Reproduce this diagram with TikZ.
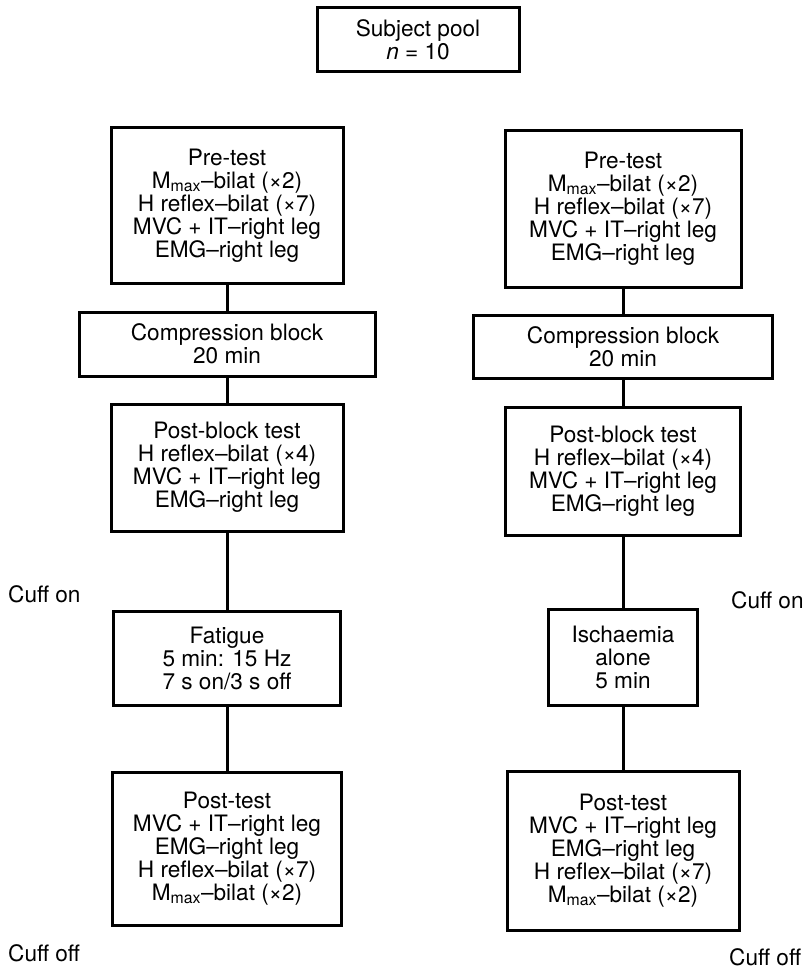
\documentclass[tikz,border=0pt]{standalone}
\usepackage{fontspec}
\setmainfont{TeX Gyre Heros}
\usetikzlibrary{positioning}

\begin{document}
\begin{tikzpicture}[x=1pt,y=-1pt]
  % Styles
  \tikzstyle{box}=[draw,line width=3pt,align=center,inner sep=0pt,font=\fontsize{22.6}{23}\selectfont]
  \tikzstyle{tallbox}=[box,minimum width=232pt,minimum height=155pt]
  \tikzstyle{link}=[line width=3pt]
  \tikzstyle{cuff}=[anchor=west,inner sep=0pt,font=\fontsize{22.6}{23}\selectfont]

  \useasboundingbox (0,0) rectangle (809,973);

  % Subject pool
  \node[box,minimum width=202pt,minimum height=64pt] (pool) at (418,40)
    {Subject pool\\\textit{n} = 10};

  % Left column
  \node[tallbox] (pretestL) at (227,205.5)
    {Pre-test\\M\textsubscript{max}–bilat (×2)\\H reflex–bilat (×7)\\MVC + IT–right leg\\EMG–right leg};
  \node[box,minimum width=296pt,minimum height=64pt] (blockL) at (227,344)
    {Compression block\\20 min};
  \node[box,minimum width=232pt,minimum height=127pt] (postblockL) at (227,467.5)
    {Post-block test\\H reflex–bilat (×4)\\MVC + IT–right leg\\EMG–right leg};
  \node[box,minimum width=227pt,minimum height=94pt] (fatigue) at (227,658)
    {Fatigue\\5 min: 15 Hz\\7 s on/3 s off};
  \node[tallbox,minimum width=229pt,minimum height=153pt] (posttestL) at (227,848.5)
    {Post-test\\MVC + IT–right leg\\EMG–right leg\\H reflex–bilat (×7)\\M\textsubscript{max}–bilat (×2)};

  % Right column
  \node[tallbox,minimum width=236pt,minimum height=156pt] (pretestR) at (623,209)
    {Pre-test\\M\textsubscript{max}–bilat (×2)\\H reflex–bilat (×7)\\MVC + IT–right leg\\EMG–right leg};
  \node[box,minimum width=299pt,minimum height=63pt] (blockR) at (623,346.5)
    {Compression block\\20 min};
  \node[box,minimum width=235pt,minimum height=128pt] (postblockR) at (623,471)
    {Post-block test\\H reflex–bilat (×4)\\MVC + IT–right leg\\EMG–right leg};
  \node[box,minimum width=149pt,minimum height=96pt] (ischaemia) at (623,657)
    {Ischaemia\\alone\\5 min};
  \node[tallbox,minimum width=232pt,minimum height=159pt] (posttestR) at (623,850.5)
    {Post-test\\MVC + IT–right leg\\EMG–right leg\\H reflex–bilat (×7)\\M\textsubscript{max}–bilat (×2)};

  % Links
  \draw[link] (pretestL) -- (blockL);
  \draw[link] (blockL) -- (postblockL);
  \draw[link] (postblockL) -- (fatigue);
  \draw[link] (fatigue) -- (posttestL);
  \draw[link] (pretestR) -- (blockR);
  \draw[link] (blockR) -- (postblockR);
  \draw[link] (postblockR) -- (ischaemia);
  \draw[link] (ischaemia) -- (posttestR);

  % Cuff labels
  \node[cuff] (onL) at (8,594) {Cuff on};
  \node[cuff] (onR) at (731,600) {Cuff on};
  \node[cuff] (offL) at (8,953) {Cuff off};
  \node[cuff] (offR) at (729,957) {Cuff off};
\end{tikzpicture}
\end{document}
